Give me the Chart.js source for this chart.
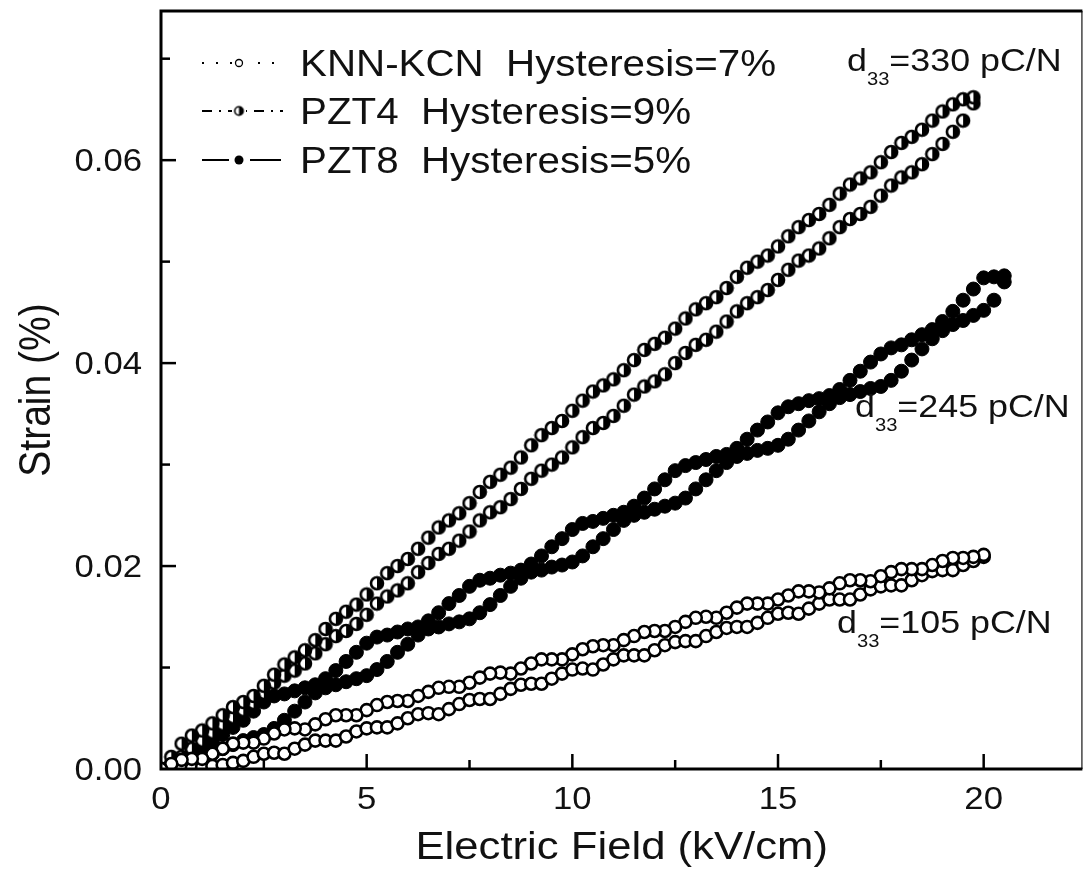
<!DOCTYPE html>
<html>
<head>
<meta charset="utf-8">
<title>Strain vs Electric Field</title>
<script src="https://cdn.jsdelivr.net/npm/chart.js@4.4.1/dist/chart.umd.min.js"></script>
<style>
  body { margin: 0; background: #fff; }
  canvas { display: block; }
</style>
</head>
<body>
<canvas id="grafico" width="1091" height="874"></canvas>
<script>
// Campo eléctrico (kV/cm), paso de 0.25
const field = [
  0, 0.25, 0.5, 0.75, 1, 1.25, 1.5, 1.75, 2, 2.25, 2.5, 2.75, 3, 3.25, 3.5, 3.75,
  4, 4.25, 4.5, 4.75, 5, 5.25, 5.5, 5.75, 6, 6.25, 6.5, 6.75, 7, 7.25, 7.5, 7.75,
  8, 8.25, 8.5, 8.75, 9, 9.25, 9.5, 9.75, 10, 10.25, 10.5, 10.75, 11, 11.25, 11.5, 11.75,
  12, 12.25, 12.5, 12.75, 13, 13.25, 13.5, 13.75, 14, 14.25, 14.5, 14.75, 15, 15.25, 15.5, 15.75,
  16, 16.25, 16.5, 16.75, 17, 17.25, 17.5, 17.75, 18, 18.25, 18.5, 18.75, 19, 19.25, 19.5, 19.75,
  20, 20.25, 20.5
];

// KNN-KCN (d33 = 105 pC/N): rama de subida y rama de bajada, strain en %
const knnUp = [
  0.0000, 0.0000, 0.0000, 0.0001, 0.0002, 0.0003, 0.0004, 0.0006, 0.0008, 0.0012,
  0.0015, 0.0016, 0.0015, 0.0020, 0.0024, 0.0028, 0.0028, 0.0028, 0.0032, 0.0037,
  0.0040, 0.0041, 0.0041, 0.0045, 0.0050, 0.0054, 0.0055, 0.0054, 0.0059, 0.0064,
  0.0068, 0.0069, 0.0069, 0.0074, 0.0079, 0.0083, 0.0084, 0.0084, 0.0089, 0.0094,
  0.0098, 0.0099, 0.0098, 0.0103, 0.0108, 0.0112, 0.0112, 0.0112, 0.0117, 0.0122,
  0.0125, 0.0126, 0.0126, 0.0131, 0.0135, 0.0139, 0.0140, 0.0140, 0.0144, 0.0149,
  0.0153, 0.0154, 0.0153, 0.0158, 0.0163, 0.0167, 0.0167, 0.0167, 0.0172, 0.0177,
  0.0180, 0.0181, 0.0181, 0.0186, 0.0191, 0.0195, 0.0196, 0.0196, 0.0201, 0.0205,
  0.0209
];
const knnDown = [
  0.0000, 0.0005, 0.0009, 0.0010, 0.0010, 0.0015, 0.0020, 0.0025, 0.0026, 0.0026,
  0.0030, 0.0035, 0.0039, 0.0040, 0.0039, 0.0044, 0.0049, 0.0053, 0.0053, 0.0053,
  0.0058, 0.0063, 0.0066, 0.0067, 0.0067, 0.0072, 0.0076, 0.0080, 0.0081, 0.0081,
  0.0085, 0.0090, 0.0094, 0.0095, 0.0094, 0.0099, 0.0104, 0.0108, 0.0108, 0.0108,
  0.0113, 0.0118, 0.0121, 0.0122, 0.0122, 0.0127, 0.0131, 0.0135, 0.0136, 0.0136,
  0.0140, 0.0145, 0.0149, 0.0150, 0.0149, 0.0154, 0.0159, 0.0163, 0.0163, 0.0163,
  0.0167, 0.0171, 0.0175, 0.0175, 0.0174, 0.0178, 0.0183, 0.0186, 0.0186, 0.0185,
  0.0190, 0.0194, 0.0197, 0.0197, 0.0197, 0.0201, 0.0205, 0.0208, 0.0208, 0.0209,
  0.0211
];

// PZT4 (d33 = 330 pC/N)
const pzt4Up = [
  0.0000, 0.0005, 0.0012, 0.0020, 0.0028, 0.0036, 0.0044, 0.0051, 0.0058, 0.0065,
  0.0075, 0.0085, 0.0092, 0.0097, 0.0104, 0.0114, 0.0123, 0.0131, 0.0136, 0.0143,
  0.0152, 0.0163, 0.0170, 0.0176, 0.0183, 0.0194, 0.0203, 0.0212, 0.0217, 0.0225,
  0.0234, 0.0245, 0.0253, 0.0258, 0.0266, 0.0276, 0.0286, 0.0294, 0.0300, 0.0307,
  0.0317, 0.0327, 0.0336, 0.0341, 0.0348, 0.0358, 0.0369, 0.0377, 0.0382, 0.0389,
  0.0400, 0.0410, 0.0418, 0.0423, 0.0431, 0.0441, 0.0451, 0.0459, 0.0465, 0.0472,
  0.0482, 0.0492, 0.0501, 0.0506, 0.0513, 0.0523, 0.0534, 0.0542, 0.0547, 0.0554,
  0.0565, 0.0575, 0.0583, 0.0588, 0.0596, 0.0606, 0.0616, 0.0628, 0.0639, 0.0656
];
const pzt4Down = [
  0.0000, 0.0012, 0.0025, 0.0033, 0.0038, 0.0045, 0.0053, 0.0061, 0.0066, 0.0072,
  0.0082, 0.0093, 0.0103, 0.0110, 0.0117, 0.0127, 0.0138, 0.0148, 0.0155, 0.0162,
  0.0172, 0.0183, 0.0193, 0.0200, 0.0207, 0.0217, 0.0228, 0.0238, 0.0245, 0.0252,
  0.0262, 0.0273, 0.0283, 0.0290, 0.0297, 0.0307, 0.0319, 0.0329, 0.0336, 0.0343,
  0.0353, 0.0363, 0.0372, 0.0378, 0.0384, 0.0393, 0.0403, 0.0413, 0.0419, 0.0425,
  0.0434, 0.0444, 0.0453, 0.0459, 0.0465, 0.0474, 0.0485, 0.0494, 0.0500, 0.0506,
  0.0515, 0.0525, 0.0534, 0.0541, 0.0547, 0.0556, 0.0567, 0.0576, 0.0582, 0.0588,
  0.0598, 0.0608, 0.0617, 0.0623, 0.0630, 0.0639, 0.0648, 0.0655, 0.0660, 0.0662
];

// PZT8 (d33 = 245 pC/N)
const pzt8Up = [
  0.0000, 0.0001, 0.0003, 0.0006, 0.0010, 0.0015, 0.0020, 0.0024,
  0.0028, 0.0031, 0.0034, 0.0040, 0.0048, 0.0057, 0.0066, 0.0075, 0.0080, 0.0083,
  0.0086, 0.0089, 0.0092, 0.0098, 0.0106, 0.0115, 0.0123, 0.0132, 0.0138, 0.0140,
  0.0143, 0.0145, 0.0148, 0.0154, 0.0162, 0.0171, 0.0180, 0.0188, 0.0194, 0.0196,
  0.0199, 0.0201, 0.0204, 0.0210, 0.0219, 0.0227, 0.0236, 0.0245, 0.0250, 0.0253,
  0.0256, 0.0259, 0.0262, 0.0267, 0.0276, 0.0285, 0.0294, 0.0302, 0.0308, 0.0311,
  0.0314, 0.0316, 0.0319, 0.0325, 0.0334, 0.0343, 0.0352, 0.0360, 0.0366, 0.0369,
  0.0372, 0.0375, 0.0377, 0.0383, 0.0392, 0.0403, 0.0414, 0.0424, 0.0432, 0.0438,
  0.0442, 0.0447, 0.0452, 0.0462, 0.0480
];
const pzt8Down = [
  0.0000, 0.0004, 0.0009, 0.0015, 0.0021, 0.0027, 0.0034, 0.0041,
  0.0048, 0.0057, 0.0066, 0.0072, 0.0074, 0.0077, 0.0080, 0.0083, 0.0089, 0.0097,
  0.0106, 0.0115, 0.0124, 0.0130, 0.0132, 0.0135, 0.0138, 0.0140, 0.0146, 0.0154,
  0.0163, 0.0171, 0.0180, 0.0186, 0.0188, 0.0191, 0.0193, 0.0196, 0.0202, 0.0210,
  0.0219, 0.0227, 0.0236, 0.0242, 0.0244, 0.0247, 0.0250, 0.0253, 0.0259, 0.0267,
  0.0276, 0.0285, 0.0294, 0.0299, 0.0302, 0.0305, 0.0308, 0.0310, 0.0316, 0.0325,
  0.0334, 0.0342, 0.0351, 0.0357, 0.0360, 0.0363, 0.0365, 0.0368, 0.0374, 0.0383,
  0.0392, 0.0401, 0.0409, 0.0415, 0.0418, 0.0423, 0.0428, 0.0433, 0.0441, 0.0451,
  0.0462, 0.0473, 0.0484, 0.0485, 0.0486
];

// Etiquetas de ticks y textos
const xTickLabels = ['0', '5', '10', '15', '20'];
const yTickLabels = ['0.00', '0.02', '0.04', '0.06'];
const legendNames = ['KNN-KCN  Hysteresis=7%', 'PZT4  Hysteresis=9%', 'PZT8  Hysteresis=5%'];
const d33Values = ['330', '245', '105'];

const FONT = '"Liberation Sans", Arial, sans-serif';
const SX = 1.12; // la figura original está algo estirada en horizontal

// Construye el lazo: subida y luego bajada
function lazo(up, down) {
    const pts = [];
    for (let i = 0; i < up.length; i++) pts.push({ x: field[i], y: up[i] });
    for (let i = down.length - 1; i >= 0; i--) pts.push({ x: field[i], y: down[i] });
    return pts;
}

// Marcador de círculo semirelleno (PZT4)
function circuloMedio(r, lw) {
    const c = document.createElement('canvas');
    const s = Math.ceil(2 * r + 4);
    c.width = s; c.height = s;
    const g = c.getContext('2d');
    const m = s / 2;
    g.beginPath(); g.arc(m, m, r, 0, 2 * Math.PI); g.fillStyle = '#fff'; g.fill();
    g.beginPath(); g.arc(m, m, r, -Math.PI / 2, Math.PI / 2); g.closePath();
    g.fillStyle = '#000'; g.fill();
    g.beginPath(); g.arc(m, m, r, 0, 2 * Math.PI);
    g.lineWidth = lw; g.strokeStyle = '#000'; g.stroke();
    return c;
}
const medio = circuloMedio(6, 2.6);
const medioLeyenda = circuloMedio(4.2, 1.6);

function texto(ctx, str, x, y, size, align) {
    ctx.save();
    ctx.font = size + 'px ' + FONT;
    ctx.fillStyle = '#111';
    ctx.textBaseline = 'alphabetic';
    ctx.textAlign = align || 'left';
    ctx.translate(x, y);
    ctx.scale(SX, 1);
    ctx.fillText(str, 0, 0);
    ctx.restore();
}
function ancho(ctx, str, size) {
    ctx.save();
    ctx.font = size + 'px ' + FONT;
    const w = ctx.measureText(str).width * SX;
    ctx.restore();
    return w;
}

// d33 con subíndice
function etiquetaD33(ctx, valor, x, y) {
    texto(ctx, 'd', x, y, 32);
    const wd = ancho(ctx, 'd', 32);
    texto(ctx, '33', x + wd, y + 14, 18);
    const ws = ancho(ctx, '33', 18);
    texto(ctx, '=' + valor + ' pC/N', x + wd + ws, y, 32);
}

const marcoPlugin = {
    id: 'marco',
    afterDraw(chart) {
        const ctx = chart.ctx;
        const a = chart.chartArea;
        const xs = chart.scales.x, ys = chart.scales.y;
        ctx.save();
        ctx.lineCap = 'butt';

        // borde derecho fino
        ctx.lineWidth = 1.5;
        ctx.strokeStyle = '#444';
        ctx.beginPath(); ctx.moveTo(a.right - 0.5, a.top); ctx.lineTo(a.right - 0.5, a.bottom); ctx.stroke();

        // ejes gruesos
        ctx.strokeStyle = '#000';
        ctx.lineWidth = 3;
        ctx.beginPath();
        ctx.moveTo(a.right, a.top); ctx.lineTo(a.left, a.top);
        ctx.lineTo(a.left, a.bottom); ctx.lineTo(a.right, a.bottom);
        ctx.stroke();

        // ticks hacia dentro
        ctx.lineWidth = 2.5;
        xs.ticks.forEach(t => {
            const px = xs.getPixelForValue(t.value);
            const mayor = Math.abs(t.value / 5 - Math.round(t.value / 5)) < 1e-6;
            if (px <= a.left + 2) return;
            ctx.beginPath(); ctx.moveTo(px, a.bottom); ctx.lineTo(px, a.bottom - (mayor ? 15 : 9)); ctx.stroke();
        });
        ys.ticks.forEach(t => {
            const py = ys.getPixelForValue(t.value);
            const mayor = Math.round(t.value * 100) % 2 === 0;
            if (py >= a.bottom - 2) return;
            ctx.beginPath(); ctx.moveTo(a.left, py); ctx.lineTo(a.left + (mayor ? 15 : 9), py); ctx.stroke();
        });

        // etiquetas de ticks
        xTickLabels.forEach(l => {
            texto(ctx, l, xs.getPixelForValue(parseFloat(l)), a.bottom + 40, 31, 'center');
        });
        yTickLabels.forEach(l => {
            texto(ctx, l, a.left - 19, ys.getPixelForValue(parseFloat(l)) + 11, 31, 'right');
        });

        // títulos de ejes
        texto(ctx, 'Electric Field (kV/cm)', (a.left + a.right) / 2, 859, 39, 'center');
        ctx.save();
        ctx.font = '39px ' + FONT;
        ctx.fillStyle = '#111';
        ctx.textAlign = 'center';
        ctx.translate(50, (a.top + a.bottom) / 2);
        ctx.scale(SX, 1);
        ctx.rotate(-Math.PI / 2);
        ctx.fillText('Strain (%)', 0, 0);
        ctx.restore();

        // leyenda
        const filas = [63, 111, 160];
        ctx.lineWidth = 2;
        // KNN: punteado
        ctx.setLineDash([2, 12]);
        ctx.beginPath(); ctx.moveTo(202, filas[0]); ctx.lineTo(283, filas[0]); ctx.stroke();
        // PZT4: raya-punto
        ctx.setLineDash([10, 7, 2, 7]);
        ctx.beginPath(); ctx.moveTo(202, filas[1]); ctx.lineTo(283, filas[1]); ctx.stroke();
        // PZT8: continua
        ctx.setLineDash([]);
        ctx.beginPath(); ctx.moveTo(202, filas[2]); ctx.lineTo(229, filas[2]); ctx.stroke();
        ctx.beginPath(); ctx.moveTo(250, filas[2]); ctx.lineTo(281, filas[2]); ctx.stroke();
        // marcadores de leyenda
        ctx.fillStyle = '#fff';
        ctx.fillRect(232, filas[0] - 6, 14, 12);
        ctx.fillRect(232, filas[1] - 6, 14, 12);
        ctx.lineWidth = 1.3;
        ctx.beginPath(); ctx.arc(239, filas[0], 3.5, 0, 2 * Math.PI); ctx.fill(); ctx.stroke();
        ctx.drawImage(medioLeyenda, 239 - medioLeyenda.width / 2, filas[1] - medioLeyenda.height / 2);
        ctx.fillStyle = '#000';
        ctx.beginPath(); ctx.arc(239, filas[2], 4.5, 0, 2 * Math.PI); ctx.fill();
        legendNames.forEach((n, i) => texto(ctx, n, 300, filas[i] + 13, 36));

        // anotaciones d33
        etiquetaD33(ctx, d33Values[0], 847, 71);
        etiquetaD33(ctx, d33Values[1], 855, 417);
        etiquetaD33(ctx, d33Values[2], 837, 633);
        ctx.restore();
    }
};

const ctx = document.getElementById('grafico').getContext('2d');
window.myChart = new Chart(ctx, {
    type: 'scatter',
    data: {
        datasets: [
            {
                label: 'KNN-KCN',
                data: lazo(knnUp, knnDown),
                pointStyle: 'circle',
                pointRadius: 6,
                pointBackgroundColor: '#fff',
                pointBorderColor: '#000',
                pointBorderWidth: 2.6,
                showLine: false
            },
            {
                label: 'PZT4',
                data: lazo(pzt4Up, pzt4Down),
                pointStyle: medio,
                pointRadius: 7,
                showLine: false
            },
            {
                label: 'PZT8',
                data: lazo(pzt8Up, pzt8Down),
                pointStyle: 'circle',
                pointRadius: 7,
                pointBackgroundColor: '#000',
                pointBorderColor: '#000',
                pointBorderWidth: 1,
                showLine: false
            }
        ]
    },
    options: {
        responsive: false,
        animation: false,
        events: [],
        layout: { padding: { top: 11, right: 2, left: 0, bottom: 0 } },
        plugins: { legend: { display: false }, tooltip: { enabled: false } },
        scales: {
            x: {
                type: 'linear',
                min: 0,
                max: 22.4,
                grid: { display: false },
                border: { display: false },
                ticks: { display: false, stepSize: 2.5, includeBounds: false },
                afterFit(s) { s.height = 105; }
            },
            y: {
                type: 'linear',
                min: 0,
                max: 0.0747,
                grid: { display: false },
                border: { display: false },
                ticks: { display: false, stepSize: 0.01, includeBounds: false },
                afterFit(s) { s.width = 161; }
            }
        }
    },
    plugins: [marcoPlugin]
});
</script>
</body>
</html>
